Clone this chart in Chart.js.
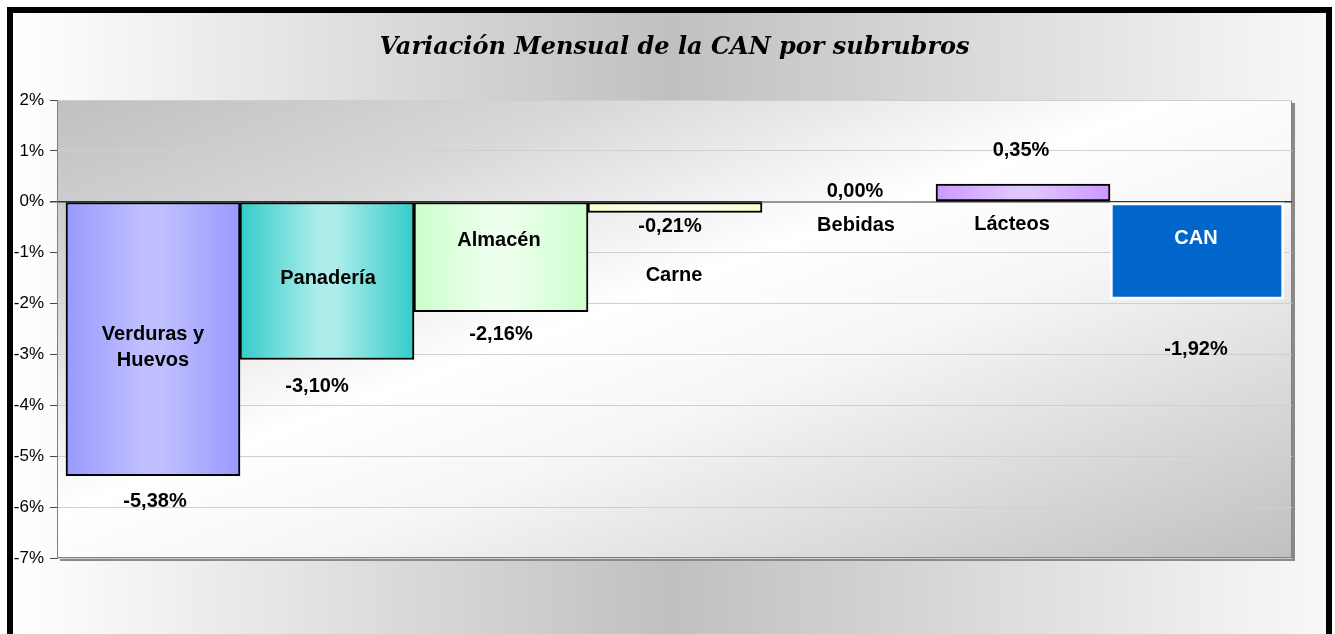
<!DOCTYPE html>
<html><head><meta charset="utf-8">
<script src="https://cdn.jsdelivr.net/npm/chart.js@4.4.1/dist/chart.umd.min.js"></script>
<style>html,body{margin:0;padding:0;background:#fff;overflow:hidden}</style>
</head><body><canvas id="c" width="1335" height="634"></canvas>
<script>
// ---- data ----
const categories = [['Verduras y', 'Huevos'], 'Panadería', 'Almacén', 'Carne', 'Bebidas', 'Lácteos', 'CAN'];
const values = [-5.38, -3.10, -2.16, -0.21, 0.00, 0.35, -1.92];
const yMin = -7, yMax = 2, yStep = 1;
const titleText = 'Variación Mensual de la CAN por subrubros';

// ---- styles ----
const edgeColors   = ['#9999FF', '#33CCCC', '#CCFFCC', '#FFFFCC', '#FFFFFF', '#CC99FF', '#0066CC'];
const centerColors = ['#C0C0FF', '#ADEDE9', '#EEFFEE', '#FFFFEE', '#FFFFFF', '#E0C6FF', '#0066CC'];
const borderColors = ['#000', '#000', '#000', '#000', '#000', '#000', '#FFFFFF'];
const labelColors  = ['#000', '#000', '#000', '#000', '#000', '#000', '#FFFFFF'];
// label anchors (in % units on the value axis) and small horizontal nudges (px)
const valueLabelAt    = [-5.85, -3.60, -2.57, -0.45, 0.25, 1.04, -2.87];
const valueLabelDx    = [2, -10, 0, -5, 6, -2, -1];
const categoryLabelAt = [-2.83, -1.47, -0.73, -1.41, -0.43, -0.41, -0.69];
const categoryLabelDx = [0, 1, -2, -1, 7, -11, -1];

const fmt = v => v.toFixed(2).replace('.', ',') + '%';

function barGradient(ctx) {
  const i = ctx.dataIndex;
  const chart = ctx.chart;
  const xs = chart.scales && chart.scales.x;
  if (i === undefined || !xs || !chart.chartArea) return edgeColors[i] || '#ccc';
  const cx = xs.getPixelForValue(i);
  const half = (xs.getPixelForValue(1) - xs.getPixelForValue(0)) / 2;
  const g = chart.ctx.createLinearGradient(cx - half, 0, cx + half, 0);
  g.addColorStop(0, edgeColors[i]);
  g.addColorStop(0.45, centerColors[i]);
  g.addColorStop(0.55, centerColors[i]);
  g.addColorStop(1, edgeColors[i]);
  return g;
}

const decor = {
  id: 'decor',
  beforeDraw(chart) {
    const c = chart.ctx, W = chart.width, H = chart.height, a = chart.chartArea;
    c.save();
    c.fillStyle = '#fff'; c.fillRect(0, 0, W, H);
    const bg = c.createLinearGradient(13, 0, 1326, 0);
    bg.addColorStop(0, '#ffffff');
    bg.addColorStop(0.5, '#c0c0c0');
    bg.addColorStop(1, '#f8f8f8');
    c.fillStyle = bg; c.fillRect(13, 13, 1313, H);
    // plot shadow
    c.fillStyle = '#8a8a8a';
    c.fillRect(a.left + 3, a.top + 3, a.right - a.left, a.bottom - a.top);
    // plot diagonal gradient
    const w = a.right - a.left, h = a.bottom - a.top;
    const cx = (a.left + a.right) / 2, cy = (a.top + a.bottom) / 2;
    const k = (w * h) / (w * w + h * h);
    const pg = c.createLinearGradient(cx - h * k, cy - w * k, cx + h * k, cy + w * k);
    pg.addColorStop(0, '#c0c0c0');
    pg.addColorStop(0.22, '#d8d8d8');
    pg.addColorStop(0.45, '#ffffff');
    pg.addColorStop(0.6, '#f6f6f6');
    pg.addColorStop(1, '#c0c0c0');
    c.fillStyle = pg; c.fillRect(a.left, a.top, w, h);
    c.strokeStyle = '#808080'; c.lineWidth = 1;
    c.strokeRect(a.left + 0.5, a.top + 0.5, w - 1, h - 1);
    c.restore();
  },
  afterDraw(chart) {
    const c = chart.ctx, xs = chart.scales.x, ys = chart.scales.y;
    c.save();
    c.font = 'bold 20px "Liberation Sans", Arial, sans-serif';
    c.textAlign = 'center'; c.textBaseline = 'middle';
    values.forEach((v, i) => {
      const x = xs.getPixelForValue(i);
      c.fillStyle = labelColors[i];
      const lines = [].concat(categories[i]);
      const yc = ys.getPixelForValue(categoryLabelAt[i]) + 2;
      const lh = 26;
      lines.forEach((t, j) => c.fillText(t, x + categoryLabelDx[i], yc + (j - (lines.length - 1) / 2) * lh));
      c.fillStyle = '#000';
      c.fillText(fmt(v), x + valueLabelDx[i], ys.getPixelForValue(valueLabelAt[i]) + 2);
    });
    // black frame
    c.strokeStyle = '#000'; c.lineWidth = 6;
    c.strokeRect(10, 10, 1319, 700);
    c.restore();
  }
};

new Chart(document.getElementById('c'), {
  type: 'bar',
  data: {
    datasets: [{
      data: values.map((v, i) => ({ x: i, y: v })),
      backgroundColor: barGradient,
      borderColor: borderColors,
      borderWidth: values.map((v, i) => v === 0 ? 0 : (i === values.length - 1 ? 3 : 2)),
      borderSkipped: false,
      barThickness: 'flex',
      categoryPercentage: 1,
      barPercentage: 1
    }]
  },
  options: {
    responsive: false,
    animation: false,
    devicePixelRatio: 1,
    layout: { padding: { left: 13, right: 43, top: 0, bottom: 76 } },
    plugins: {
      legend: { display: false },
      tooltip: { enabled: false },
      title: {
        display: true, text: titleText, fullSize: false, color: '#000',
        font: { family: '"DejaVu Serif", serif', size: 24, style: 'italic', weight: 'bold' },
        padding: { top: 33, bottom: 38.2 }
      }
    },
    scales: {
      x: {
        type: 'linear', min: -0.5517, max: 6.546, offset: false, bounds: 'data',
        ticks: { stepSize: 1, includeBounds: false },
        display: false
      },
      y: {
        min: yMin, max: yMax,
        afterFit(s) { s.width = 44; },
        ticks: {
          stepSize: yStep, color: '#000', padding: 6,
          font: { family: '"Liberation Sans", Arial, sans-serif', size: 17 },
          callback: v => v + '%'
        },
        grid: {
          color: ctx => ctx.tick && ctx.tick.value === 0 ? '#333' : '#cfcfcf',
          lineWidth: ctx => ctx.tick && ctx.tick.value === 0 ? 1.5 : 1,
          tickColor: '#444', tickLength: 7
        },
        border: { color: '#808080' }
      }
    }
  },
  plugins: [decor]
});
</script></body></html>
